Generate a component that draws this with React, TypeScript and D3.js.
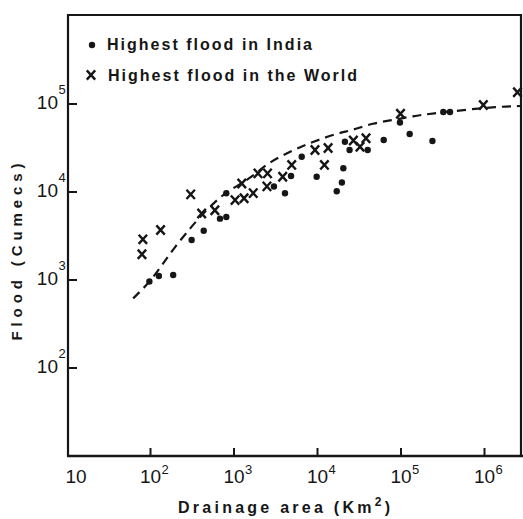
import React from 'react';
import * as d3 from 'd3';

const W = 523;
const H = 519;

// Tick values and labels
const xTickValues = [10, 1e2, 1e3, 1e4, 1e5, 1e6];
const xTickExponents = ['', '2', '3', '4', '5', '6'];
const yTickValues = [1e2, 1e3, 1e4, 1e5];
const yTickExponents = ['2', '3', '4', '5'];

// Highest flood in India (drainage area km², flood cumecs)
const indiaArea = [97, 126, 187, 311, 434, 679, 809, 809, 3010, 4080, 4820, 6470, 9770, 20400, 19600, 17000, 21300, 24200, 39900, 62100, 97200, 127000, 238000, 321000, 386000];
const indiaFlood = [960, 1110, 1140, 2850, 3630, 4980, 5200, 9660, 11550, 9660, 15200, 25200, 14900, 18600, 12800, 10200, 37300, 30000, 30000, 39000, 61700, 45600, 38000, 81100, 81100];

// Highest flood in the World
const worldArea = [81, 79, 132, 303, 410, 590, 1030, 1320, 1700, 1240, 1940, 2520, 2480, 3830, 4910, 9330, 13400, 12100, 26900, 38100, 32300, 98600, 968000, 2480000];
const worldFlood = [2900, 1960, 3700, 9400, 5700, 6200, 8100, 8500, 9700, 12500, 16300, 16300, 11600, 14900, 20300, 30000, 31600, 20300, 38500, 40800, 32700, 77500, 97500, 136000];

// Envelope curve (dashed)
const curveArea = [62, 99, 142, 196, 297, 410, 592, 818, 1236, 1870, 2465, 5090, 8830, 17000, 26600, 46200, 80200, 139000, 241000, 553000, 1400000, 2660000];
const curveFlood = [618, 955, 1545, 2380, 3850, 5470, 7740, 10050, 12540, 16300, 21000, 30000, 37200, 46300, 50500, 60700, 65600, 72900, 78200, 85300, 93100, 94900];

const FONT = '"Liberation Sans", Arial, Helvetica, sans-serif';
const INK = '#161616';

function Cross({ cx, cy, s = 4.2 }: { cx: number; cy: number; s?: number }) {
  return (
    <path
      d={`M${cx - s},${cy - s * 1.1}L${cx + s},${cy + s * 1.1}M${cx + s},${cy - s * 1.1}L${cx - s},${cy + s * 1.1}`}
      stroke={INK}
      strokeWidth={2.4}
      strokeLinecap="butt"
      fill="none"
    />
  );
}

export default function App() {
  const left = 68;
  const right = 521;
  const top = 15;
  const bottom = 456;

  const x = d3.scaleLog().domain([10, Math.pow(10, 1 + 454 / 83.5)]).range([67, 521]);
  const y = d3.scaleLog().domain([10, 1e6]).range([456, 16]);

  const curvePts: [number, number][] = curveArea.map((a, i) => [x(a), y(curveFlood[i])]);
  const linePath = d3.line().curve(d3.curveBasis)(curvePts) || '';

  return (
    <svg
      width={W}
      height={H}
      viewBox={`0 0 ${W} ${H}`}
      style={{ position: 'absolute', left: 0, top: 0, display: 'block', background: '#ffffff' }}
      fontFamily={FONT}
    >
      <rect x={0} y={0} width={W} height={H} fill="#ffffff" />

      {/* frame */}
      <path
        d={`M${left},${bottom}L${left},${top}L${right},${top}L${right},${bottom}`}
        stroke={INK}
        strokeWidth={2.2}
        fill="none"
      />
      <line x1={left - 1} x2={W} y1={bottom} y2={bottom} stroke={INK} strokeWidth={2.4} />

      {/* x ticks */}
      {xTickValues.map((v, i) =>
        i === 0 ? null : (
          <line key={`xt${i}`} x1={x(v)} x2={x(v)} y1={bottom} y2={bottom - 8} stroke={INK} strokeWidth={2} />
        )
      )}
      {xTickValues.map((v, i) => {
        const cx = i === 0 ? 76 : x(v);
        return (
          <g key={`xl${i}`}>
            <text x={cx} y={483} fontSize={19} textAnchor="middle" fill={INK}>10</text>
            {xTickExponents[i] && (
              <text x={cx + 11} y={474} fontSize={13} fill={INK}>{xTickExponents[i]}</text>
            )}
          </g>
        );
      })}

      {/* y ticks */}
      {yTickValues.map((v, i) => (
        <g key={`yt${i}`}>
          <line x1={left} x2={left + 9} y1={y(v)} y2={y(v)} stroke={INK} strokeWidth={2} />
          <text x={58} y={y(v) + 5} fontSize={19} textAnchor="end" fill={INK}>10</text>
          <text x={58.5} y={y(v) - 10} fontSize={13} fill={INK}>{yTickExponents[i]}</text>
        </g>
      ))}

      {/* axis titles */}
      <text x={284} y={513} fontSize={16} fontWeight="bold" textAnchor="middle" fill={INK} textLength={212} lengthAdjust="spacing">
        Drainage area (Km<tspan dy={-7} fontSize={12}>2</tspan><tspan dy={7}>)</tspan>
      </text>
      <text
        transform="translate(22,252) rotate(-90)"
        fontSize={15}
        fontWeight="bold"
        textAnchor="middle"
        fill={INK}
        textLength={177}
        lengthAdjust="spacing"
      >
        Flood (Cumecs)
      </text>

      {/* dashed envelope curve */}
      <path d={linePath} stroke={INK} strokeWidth={2.2} fill="none" strokeDasharray="9 6" />

      {/* India dots */}
      {indiaArea.map((a, i) => (
        <circle key={`in${i}`} cx={x(a)} cy={y(indiaFlood[i])} r={3.2} fill={INK} />
      ))}

      {/* World crosses */}
      {worldArea.map((a, i) => (
        <Cross key={`w${i}`} cx={x(a)} cy={y(worldFlood[i])} />
      ))}

      {/* legend */}
      <circle cx={92} cy={45} r={3.2} fill={INK} />
      <text x={107} y={50} fontSize={16} fontWeight="bold" fill={INK} textLength={205} lengthAdjust="spacing">
        Highest flood in India
      </text>
      <Cross cx={91} cy={75} />
      <text x={108} y={81} fontSize={16} fontWeight="bold" fill={INK} textLength={249} lengthAdjust="spacing">
        Highest flood in the World
      </text>
    </svg>
  );
}
